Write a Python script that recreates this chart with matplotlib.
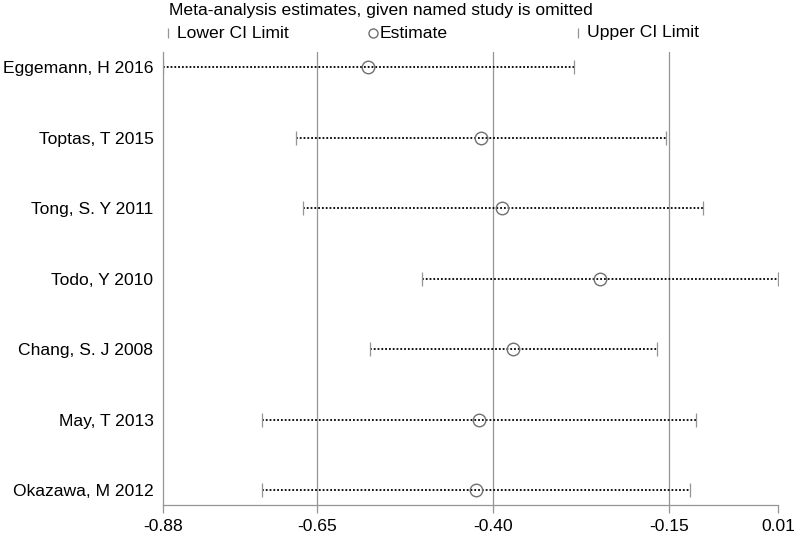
import matplotlib
matplotlib.use("Agg")
import matplotlib.pyplot as plt
from matplotlib.lines import Line2D

plt.rcParams['font.family'] = ['Liberation Sans', 'DejaVu Sans']

# studies omitted one at a time, top to bottom
studies = ["Eggemann, H 2016", "Toptas, T 2015", "Tong, S. Y 2011", "Todo, Y 2010",
           "Chang, S. J 2008", "May, T 2013", "Okazawa, M 2012"]
estimate = [-0.578, -0.417, -0.387, -0.249, -0.372, -0.421, -0.424]
lower = [-0.869, -0.680, -0.671, -0.502, -0.575, -0.728, -0.728]
upper = [-0.286, -0.154, -0.102, 0.005, -0.167, -0.112, -0.120]

grid_vals = [-0.65, -0.40, -0.15]
tick_labels = ["-0.88", "-0.65", "-0.40", "-0.15", "0.01"]

xmin = min(lower)
xmax = max(upper)
tick_pos = [xmin] + grid_vals + [xmax]

gray = "#959595"
fs = 12.6

fig = plt.figure(figsize=(8, 5.34), dpi=100)
ax = fig.add_axes([0.204, 0.054, 0.769, 0.848])

for g in grid_vals:
    ax.axvline(g, color=gray, lw=0.9, zorder=1)

ypos = list(range(1, len(studies) + 1))
for y, lo, est, up in zip(ypos, lower, estimate, upper):
    ax.plot([lo, up], [y, y], color="black", lw=1.3, ls=(0, (1, 1.1)), zorder=2)
    ax.plot([lo, up], [y, y], ls="none", marker="|", ms=9.5, mew=0.9, color=gray, zorder=3)
    ax.plot([est], [y], ls="none", marker="o", ms=9, mfc="none", mec="#707070", mew=1.0, zorder=4)

ax.set_xlim(xmin, xmax)
ax.set_ylim(len(studies) + 0.21, 0.79)
ax.set_yticks(ypos)
ax.set_yticklabels(studies, fontsize=fs)
ax.set_xticks(tick_pos)
ax.set_xticklabels(tick_labels, fontsize=fs)

for s in ["top", "right"]:
    ax.spines[s].set_visible(False)
ax.spines["left"].set_color(gray)
ax.spines["bottom"].set_color(gray)
ax.spines["left"].set_linewidth(0.9)
ax.spines["bottom"].set_linewidth(0.9)
ax.tick_params(axis="y", length=0, pad=7)
ax.tick_params(axis="x", length=6, color=gray, width=0.9, pad=4)

# legend drawn by hand to match the original column layout
fig.text(169 / 800, 1 - 11 / 534, "Meta-analysis estimates, given named study is omitted",
         fontsize=fs, va="center", ha="left")
ly = 1 - 33 / 534
fig.add_artist(Line2D([168 / 800], [ly], marker="|", ms=7, mew=0.9, color=gray,
                      transform=fig.transFigure))
fig.text(177 / 800, ly, "Lower CI Limit", fontsize=fs, va="center")
fig.add_artist(Line2D([373 / 800], [ly], marker="o", ms=6.5, mfc="none", mec="#707070",
                      mew=1.0, transform=fig.transFigure))
fig.text(380 / 800, ly, "Estimate", fontsize=fs, va="center")
fig.add_artist(Line2D([578 / 800], [ly], marker="|", ms=7, mew=0.9, color=gray,
                      transform=fig.transFigure))
fig.text(587 / 800, ly, "Upper CI Limit", fontsize=fs, va="center")

fig.savefig("out.png", dpi=100, facecolor="white")
